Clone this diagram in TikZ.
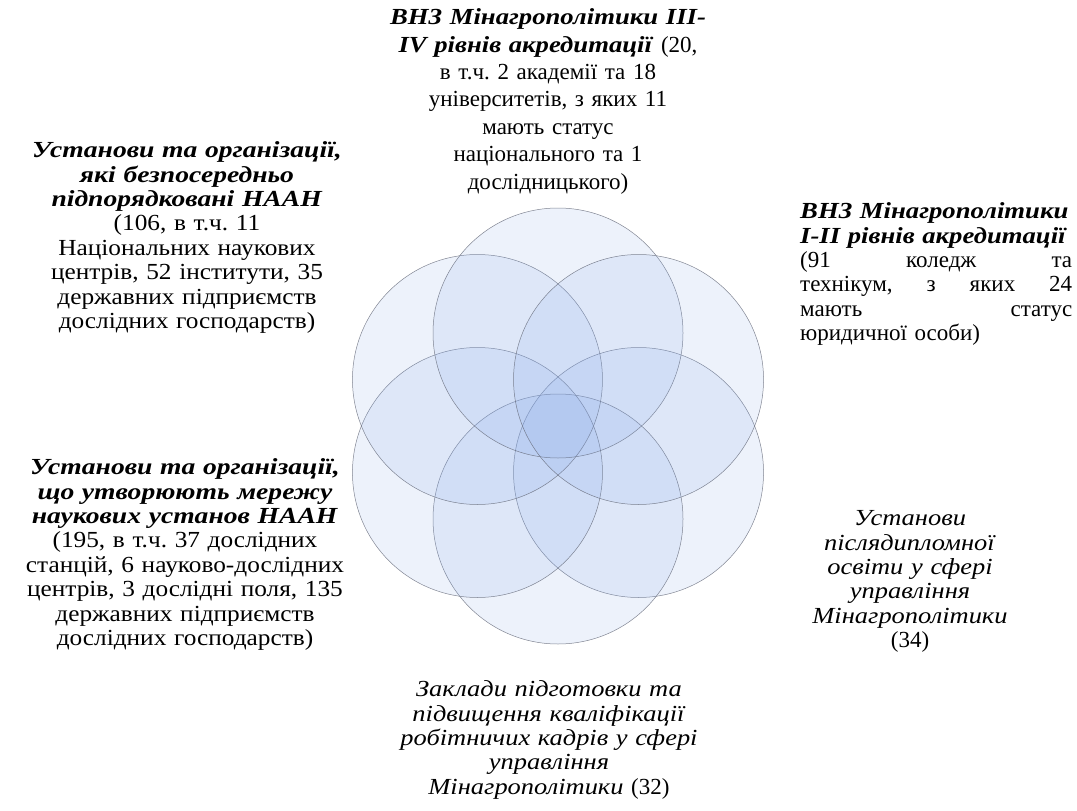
\documentclass[tikz,border=0pt]{standalone}
\usepackage{fontspec}
\setmainfont{Liberation Serif}[ItalicFeatures={FakeStretch=1.15}, BoldItalicFeatures={FakeStretch=1.16}]
\newfontfamily\widerm{Liberation Serif}[FakeStretch=1.1, ItalicFeatures={FakeStretch=1.15}, BoldItalicFeatures={FakeStretch=1.2}]
\usetikzlibrary{positioning}
\definecolor{petalblue}{RGB}{130,165,230}
\definecolor{petalrim}{RGB}{100,105,120}
\newcommand{\headbi}[1]{\textbf{\textit{#1}}}
\newcommand{\fillline}[1]{\makebox[272pt][l]{#1}}
\frenchspacing
\tikzset{
  petal/.style={circle, minimum size=250pt, inner sep=0pt, draw=petalrim, draw opacity=0.8, line width=0.5pt, fill=petalblue, fill opacity=0.14},
  blurb/.style={text width=#1, align=center, inner sep=0pt, font=\fontsize{23}{24.4}\selectfont}
}

\begin{document}
\begin{tikzpicture}[x=1pt, y=-1pt]
  \useasboundingbox (0,0) rectangle (1077,811);
  \coordinate (hub) at (558,426);
  \foreach \ang [count=\i] in {30,90,...,330}
    \node[petal] (petal\i) at ([shift={(\ang:93)}]hub) {};

  \node[blurb=360pt, font=\fontsize{23}{27.4}\selectfont, anchor=north] (vnzhigh) at (548,8.5) {
    \headbi{ВНЗ Мінагрополітики III-}\\
    \headbi{IV рівнів акредитації} (20,\\
    в т.ч. 2 академії та 18\\
    університетів, з яких 11\\
    мають статус\\
    національного та 1\\
    дослідницького)};
  \node[blurb=350pt, font=\widerm\fontsize{23}{24.4}\selectfont, anchor=north] (direct) at (187,141.5) {
    \headbi{Установи та організації,}\\
    \headbi{які безпосередньо}\\
    \headbi{підпорядковані НААН}\\
    (106, в т.ч. 11\\
    Національних наукових\\
    центрів, 52 інститути, 35\\
    державних підприємств\\
    дослідних господарств)};
  \node[blurb=272pt, align=left, anchor=north west] (vnzlow) at (800,202.5) {
    \headbi{ВНЗ Мінагрополітики}\\
    \headbi{І-ІІ рівнів акредитації}\\
    \fillline{(91\hfill коледж\hfill та}\\
    \fillline{технікум,\hfill з\hfill яких\hfill 24}\\
    \fillline{мають\hfill статус}\\
    юридичної особи)};
  \node[blurb=350pt, font=\widerm\fontsize{23}{24.4}\selectfont, anchor=north] (network) at (185,458.5) {
    \headbi{Установи та організації,}\\
    \headbi{що утворюють мережу}\\
    \headbi{наукових установ НААН}\\
    (195, в т.ч. 37 дослідних\\
    станцій, 6 науково-дослідних\\
    центрів, 3 дослідні поля, 135\\
    державних підприємств\\
    дослідних господарств)};
  \node[blurb=260pt, anchor=north] (postgrad) at (910,510.5) {
    \textit{Установи}\\
    \textit{післядипломної}\\
    \textit{освіти у сфері}\\
    \textit{управління}\\
    \textit{Мінагрополітики}\\
    (34)};
  \node[blurb=340pt, anchor=north] (workers) at (549,680.5) {
    \textit{Заклади підготовки та}\\
    \textit{підвищення кваліфікації}\\
    \textit{робітничих кадрів у сфері}\\
    \textit{управління}\\
    \textit{Мінагрополітики} (32)};
\end{tikzpicture}
\end{document}
